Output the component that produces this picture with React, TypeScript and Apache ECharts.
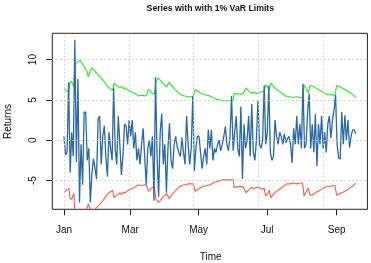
import React, { useEffect, useRef } from "react";
import * as echarts from "echarts";

// x axis is measured in days since 1 January
const monthTickDays = [0, 59, 120, 181, 243];
const monthLabels = ["Jan", "Mar", "May", "Jul", "Sep"];
const returnTicks = [-5, 0, 5, 10];
const gridDays = [0, 57.8, 115.6, 173.4, 231.2];
const gridReturns = [-5, 0, 5, 10];
const firstDay = 0;
const lastDay = 260;

const returns = [
  0.5, -1.8, -1.5, 7.2, -4.0, 1.0, -2.0, 12.45, -2.7,
  7.6, -7.7, -0.5, -5.5, 3.5, 3.5, -2.5, -1.0, -7.7, -4.0,
  -2.3, -3.5, -4.8, 2.7, 3.0, -3.0, 0.5, 1.8, -2.0, -4.5,
  1.0, -1.0, -2.5, 6.5, -1.0, -3.0, 3.0, -0.5, -4.3, -2.0,
  2.0, 1.8, -0.5, 2.5, 0.5, 2.5, -1.0, 1.0, -2.5,
  -1.0, -3.0, -0.5, 1.5, -2.0, -5.5, -1.0, 0.0, -2.0, 0.5,
  -7.5, 7.8, -2.0, -7.0, 1.0, 3.3, -3.0, -0.5, -6.5, -1.0,
  2.1, -2.5, -3.5, -0.5, 0.5, -0.8, -1.5, -2.0, 0.3, -1.5, -3.0,
  3.0, -0.5, -3.0, -1.0, 5.5, -3.8, -1.0, 0.5, 0.5, -1.5,
  -3.5, -2.0, -1.0, -3.0, 1.3, -1.0, 1.3, -2.5, -1.0, -1.5,
  -0.5, 0.0, -1.3, -0.5, 0.5, 1.7, -0.5, -1.3, 0.5, 5.5,
  -1.3, 1.0, 3.0, -1.0, -2.0, 4.2, -4.8, 2.0, -1.0, 0.0,
  3.0, -2.0, 4.5, -1.5, -2.5, 0.0, 5.0, -0.5, -1.0, 0.0,
  6.8, -0.5, 1.0, 6.8, -1.5, -2.5, -2.0, 2.5, 0.5, -0.5,
  1.0, 0.5, -0.5, 0.8, -0.3, 0.2, 0.5, -0.5, -2.8, 1.5, -0.5,
  3.0, -0.5, 2.0, -1.0, 7.0, -1.0, -0.5, 3.5, 5.8, -1.0,
  2.0, -1.5, 3.3, -3.2, 2.0, -0.5, 3.0, -1.0, 1.0, -1.5,
  2.0, 3.0, 0.3, 2.5, 3.7, 5.6, -0.5, -2.2, -2.3, 3.5,
  -0.5, 3.1, 0.0, 2.5, -0.9, 0.5, 1.3, 1.3, 0.8,
];

const limitDays = [
  0, 2.4, 4.5, 5.3, 6.8, 8.9, 9.8, 11.3, 12.8, 14.3,
  15.7, 17.2, 18.7, 20.2, 21.7, 23.2, 24.7, 26.1, 27.6, 29.1,
  32.1, 35.1, 38.0, 41.0, 43.4, 44.6, 46.9, 49.9, 51.4, 52.9,
  54.4, 57.3, 60.3, 63.3, 66.3, 69.2, 72.2, 73.7, 75.2, 76.6,
  78.1, 80.5, 82.0, 84.1, 85.6, 88.5, 91.5, 93.6, 96.0, 98.9,
  101.9, 104.9, 107.8, 110.8, 113.8, 115.3, 116.8, 118.2, 121.2, 124.2,
  127.2, 130.1, 133.1, 136.1, 139.0, 142.0, 148.0, 150.9, 151.5, 153.9,
  156.9, 159.8, 162.2, 164.3, 167.3, 169.4, 171.7, 174.7, 176.8, 178.3,
  179.7, 181.5, 183.0, 184.2, 186.6, 189.5, 192.5, 195.5, 198.5, 201.4,
  204.4, 207.4, 210.3, 212.7, 213.9, 215.7, 217.8, 219.2, 222.2, 225.2,
  228.2, 231.1, 234.1, 237.1, 240.0, 241.5, 243.0, 246.0, 249.0, 251.9,
  254.9, 257.9, 260,
];

const upperVaR = [
  6.5, 6.1, 6.0, 7.2, 7.3, 6.6, 9.5, 9.6, 9.8, 9.9,
  9.6, 9.3, 9.0, 8.6, 7.9, 8.5, 9.0, 8.8, 8.6, 8.3,
  7.9, 7.4, 6.8, 6.4, 6.2, 7.1, 6.8, 6.5, 6.7, 6.4,
  6.5, 6.2, 6.0, 5.8, 5.5, 5.6, 5.5, 5.6, 6.3, 6.2,
  5.9, 5.7, 7.3, 7.7, 7.5, 7.0, 6.6, 7.2, 6.8, 6.3,
  5.9, 5.6, 5.5, 5.4, 5.4, 5.4, 6.3, 6.2, 5.9, 5.7,
  5.6, 5.5, 5.3, 5.1, 5.0, 4.9, 4.9, 4.9, 5.8, 5.8,
  5.7, 5.8, 6.5, 6.2, 5.8, 6.0, 5.8, 5.9, 6.1, 5.9,
  6.9, 6.6, 6.2, 7.1, 6.7, 6.3, 6.0, 5.7, 5.4, 5.4,
  5.3, 5.4, 5.3, 5.3, 6.9, 6.4, 5.9, 6.8, 6.7, 6.4,
  6.2, 5.9, 5.7, 5.7, 5.6, 5.6, 6.8, 6.6, 6.4, 6.2,
  5.9, 5.6, 5.3,
];

const lowerVaR = [
  -6.5, -6.1, -6.0, -7.2, -7.3, -6.6, -9.5, -9.6, -9.8, -9.9,
  -9.6, -9.3, -9.0, -8.6, -7.9, -8.5, -9.0, -8.8, -8.6, -8.3,
  -7.9, -7.4, -6.8, -6.4, -6.2, -7.1, -6.8, -6.5, -6.7, -6.4,
  -6.5, -6.2, -6.0, -5.8, -5.5, -5.6, -5.5, -5.6, -6.3, -6.2,
  -5.9, -5.7, -7.3, -7.7, -7.5, -7.0, -6.6, -7.2, -6.8, -6.3,
  -5.9, -5.6, -5.5, -5.4, -5.4, -5.4, -6.3, -6.2, -5.9, -5.7,
  -5.6, -5.5, -5.3, -5.1, -5.0, -4.9, -4.9, -4.9, -5.8, -5.8,
  -5.7, -5.8, -6.5, -6.2, -5.8, -6.0, -5.8, -5.9, -6.1, -5.9,
  -6.9, -6.6, -6.2, -7.1, -6.7, -6.3, -6.0, -5.7, -5.4, -5.4,
  -5.3, -5.4, -5.3, -5.3, -6.9, -6.4, -5.9, -6.8, -6.7, -6.4,
  -6.2, -5.9, -5.7, -5.7, -5.6, -5.6, -6.8, -6.6, -6.4, -6.2,
  -5.9, -5.6, -5.3,
];

const FONT = "'Liberation Sans', Arial, Helvetica, sans-serif";

export default function App() {
  const ref = useRef<HTMLDivElement>(null);

  useEffect(() => {
    if (!ref.current) return;
    const chart = echarts.init(ref.current, null, { renderer: "svg" });
    const step = (lastDay - firstDay) / (returns.length - 1);
    const returnData = returns.map((v, i) => [firstDay + i * step, v]);
    const upperData = limitDays.map((d, i) => [d, upperVaR[i]]);
    const lowerData = limitDays.map((d, i) => [d, lowerVaR[i]]);

    const findLabel = (v: number) => {
      const k = monthTickDays.findIndex((d) => Math.abs(d - v) < 0.01);
      return k >= 0 ? monthLabels[k] : "";
    };

    chart.setOption({
      animation: false,
      grid: {
        left: 52.3,
        right: 3.6,
        top: 33.3,
        bottom: 53.7,
        show: true,
        borderColor: "#222",
        borderWidth: 1,
        backgroundColor: "transparent",
      },
      xAxis: {
        type: "value",
        min: -10.4,
        max: 270.4,
        axisLine: { show: false, onZero: false },
        splitLine: { show: false },
        axisTick: {
          show: true,
          length: 6,
          lineStyle: { color: "#222", width: 1 },
          customValues: monthTickDays,
        },
        axisLabel: {
          customValues: monthTickDays,
          formatter: (v: number) => findLabel(v),
          margin: 15,
          fontSize: 10,
          color: "#111",
          fontFamily: FONT,
        },
      },
      yAxis: {
        type: "value",
        min: -8.55,
        max: 13.26,
        axisLine: { show: false, onZero: false },
        splitLine: { show: false },
        axisTick: {
          show: true,
          length: 6,
          lineStyle: { color: "#222", width: 1 },
          customValues: returnTicks,
        },
        axisLabel: {
          customValues: returnTicks,
          formatter: (v: number) => String(Math.round(v)),
          rotate: 90,
          margin: 15,
          fontSize: 10,
          color: "#111",
          fontFamily: FONT,
        },
      },
      graphic: [
        {
          type: "text",
          x: 210.3,
          y: 7.5,
          style: {
            text: "Series with with 1% VaR Limits",
            fontSize: 8.7,
            fontWeight: "bold",
            fontFamily: FONT,
            fill: "#111",
            align: "center",
            verticalAlign: "middle",
          },
        },
        {
          type: "text",
          x: 210.7,
          y: 256,
          style: {
            text: "Time",
            fontSize: 10,
            fontFamily: FONT,
            fill: "#111",
            align: "center",
            verticalAlign: "middle",
          },
        },
        {
          type: "text",
          x: 7.5,
          y: 121.5,
          rotation: Math.PI / 2,
          style: {
            text: "Returns",
            fontSize: 10,
            fontFamily: FONT,
            fill: "#111",
            align: "center",
            verticalAlign: "middle",
          },
        },
      ],
      series: [
        {
          type: "line",
          data: [[firstDay, 0]],
          symbol: "none",
          lineStyle: { opacity: 0 },
          silent: true,
          z: 1,
          markLine: {
            silent: true,
            symbol: ["none", "none"],
            label: { show: false },
            lineStyle: { type: [1.5, 2.5], color: "#c8c8c8", width: 1 },
            data: [
              ...gridDays.map((d) => ({ xAxis: d })),
              ...gridReturns.map((v) => ({ yAxis: v })),
            ],
          },
        },
        {
          type: "line",
          name: "Upper VaR",
          data: upperData,
          showSymbol: false,
          symbol: "none",
          lineStyle: { color: "#22ee22", width: 1.1 },
          z: 2,
        },
        {
          type: "line",
          name: "Lower VaR",
          data: lowerData,
          showSymbol: false,
          symbol: "none",
          lineStyle: { color: "#ff5a48", width: 1.1 },
          z: 2,
        },
        {
          type: "line",
          name: "Returns",
          data: returnData,
          showSymbol: false,
          symbol: "none",
          lineStyle: { color: "#2b68aa", width: 1.3 },
          z: 3,
        },
      ],
    });

    return () => chart.dispose();
  }, []);

  return (
    <div
      ref={ref}
      style={{ position: "fixed", left: 0, top: 0, width: 371, height: 263 }}
    />
  );
}
